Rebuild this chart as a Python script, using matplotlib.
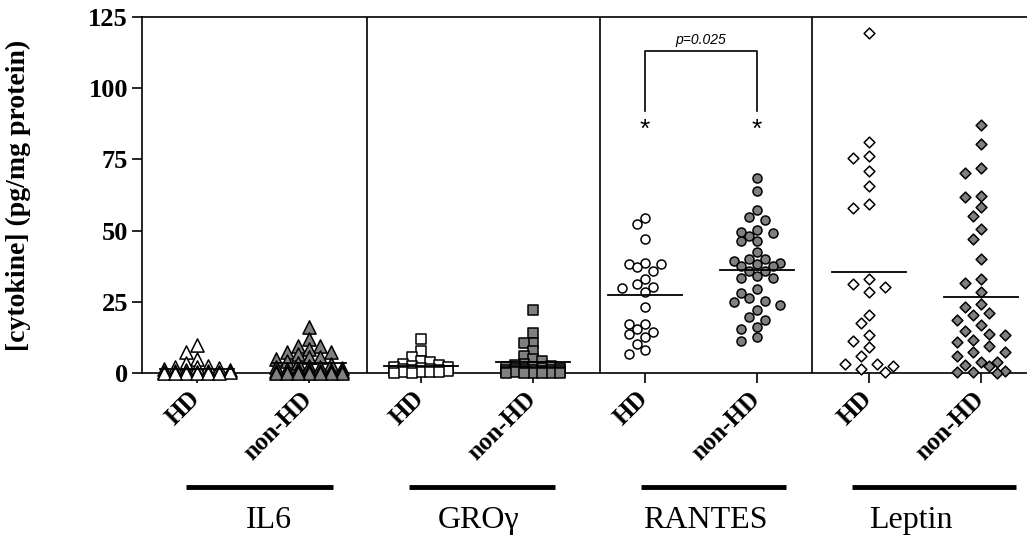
import numpy as np
import matplotlib.pyplot as plt

# values (pg/mg protein)
groups = ["IL6", "GRO\u03b3", "RANTES", "Leptin"]
tick_labels = ["HD", "non-HD"] * 4

il6_hd = [9.8, 7.5, 4.9, 3.5, 2.6, 2.2, 2.0, 1.8, 1.5, 1.2, 1.0, 0.8, 0.6,
          0.5, 0.4, 0.3, 0.2, 0.1, 0.0, 0.0, 0.0, 0.0, 0.0]
il6_non = [16.0, 11.9, 9.6, 9.6, 8.4, 7.5, 7.5, 6.7, 5.5, 5.5, 4.9, 4.2, 3.5,
           3.0, 2.6, 2.2, 2.0, 1.8, 1.5, 1.3, 1.1, 1.0, 0.8, 0.7, 0.6, 0.5,
           0.4, 0.3, 0.3, 0.2, 0.1, 0.1, 0.0, 0.0, 0.0, 0.0, 0.0]
gro_hd = [11.9, 7.8, 5.5, 4.3, 4.0, 3.2, 2.8, 2.5, 2.2, 2.0, 1.8, 1.5, 1.3,
          1.1, 0.9, 0.8, 0.6, 0.5, 0.4, 0.3, 0.2, 0.1, 0.0]
gro_non = [22.2, 13.9, 10.7, 10.4, 7.8, 6.1, 4.9, 4.3, 3.2, 2.8, 2.5, 2.2,
           2.0, 1.8, 1.6, 1.5, 1.3, 1.2, 1.1, 1.0, 0.9, 0.8, 0.7, 0.6, 0.5,
           0.5, 0.4, 0.3, 0.3, 0.2, 0.2, 0.1, 0.1, 0.0, 0.0, 0.0, 0.0]
rantes_hd = [54.5, 52.2, 46.9, 38.7, 38.2, 38.2, 37.3, 35.8, 33.1, 31.2,
             30.3, 30.0, 28.5, 23.3, 17.2, 17.2, 15.6, 14.5, 13.7, 12.5,
             10.2, 8.2, 6.7]
rantes_non = [68.5, 63.8, 57.4, 54.9, 53.7, 50.2, 49.5, 49.0, 48.1, 46.3,
              46.3, 42.5, 40.1, 40.1, 39.3, 38.7, 38.2, 37.6, 37.6, 35.8,
              35.8, 34.1, 33.5, 33.5, 29.6, 28.2, 26.5, 25.3, 25.0, 23.8,
              22.2, 19.5, 18.7, 16.0, 15.6, 12.5, 11.3]
leptin_hd = [119.5, 81.0, 76.3, 75.5, 70.8, 65.8, 59.4, 58.0, 32.9, 31.4,
             30.3, 28.5, 20.4, 17.4, 13.4, 11.3, 9.0, 5.8, 3.2, 3.2, 2.6,
             1.4, 0.2]
leptin_non = [87.1, 80.5, 72.0, 70.3, 62.3, 61.7, 58.2, 55.3, 50.4, 46.9,
              40.1, 33.1, 31.5, 28.5, 24.4, 23.3, 20.9, 20.3, 18.6, 16.8,
              14.8, 13.7, 13.3, 11.6, 11.0, 9.6, 7.5, 7.2, 5.8, 4.0, 3.7,
              2.8, 2.6, 0.8, 0.2, 0.2, 0.0]
# horizontal group lines (as drawn)
means = [1.4, 3.4, 2.6, 3.7, 27.4, 36.2, 35.5, 26.7]
p_text = "p=0.025"

series = [il6_hd, il6_non, gro_hd, gro_non,
          rantes_hd, rantes_non, leptin_hd, leptin_non]

W, H = 1027, 540
fig = plt.figure(figsize=(W / 100, H / 100), dpi=100)
ax = fig.add_axes([142 / W, (H - 373) / H, (1030 - 142) / W, (373 - 17) / H])
xmin, xmax = 1 - 55 / 112, 8 + 49 / 112
ax.set_xlim(xmin, xmax)
ax.set_ylim(0, 125)
px_x = (1030 - 142) / (xmax - xmin)
px_y = (373 - 17) / 125


def swarm(vals, d, step, kmax):
    # simple beeswarm in pixel space, returns x offsets in data units
    placed = []
    offs = np.zeros(len(vals))
    cands = [0]
    for k in range(1, kmax + 1):
        cands += [-k, k]
    for i in np.argsort(vals)[::-1]:
        y = vals[i] * px_y
        best, best_d = 0, -1
        for c in cands:
            x = c * step
            md = min([np.hypot(x - a, y - b) for a, b in placed] or [1e9])
            if md >= d:
                best = c
                break
            if md > best_d:
                best, best_d = c, md
        placed.append((best * step, y))
        offs[i] = best * step / px_x
    return offs


grey = "#808080"
styles = [
    dict(marker="^", s=90, fc="white", d=8, step=11),
    dict(marker="^", s=90, fc=grey, d=8, step=11),
    dict(marker="s", s=42, fc="white", d=8, step=9),
    dict(marker="s", s=42, fc=grey, d=8, step=9),
    dict(marker="o", s=42, fc="white", d=9, step=7.8),
    dict(marker="o", s=42, fc=grey, d=9, step=7.8),
    dict(marker="D", s=30, fc="white", d=11, step=8),
    dict(marker="D", s=30, fc=grey, d=11, step=8),
]

for i, (vals, st) in enumerate(zip(series, styles)):
    vals = np.array(vals)
    xpos = i + 1 + swarm(vals, st["d"], st["step"], 3)
    ax.scatter(xpos, vals, marker=st["marker"], s=st["s"], facecolor=st["fc"],
               edgecolor="black", linewidth=1.1, zorder=3, clip_on=False)
    ax.plot([i + 1 - 0.33, i + 1 + 0.33], [means[i], means[i]],
            color="black", lw=1.3, zorder=4)

for xs in [2.52, 4.6, 6.49]:
    ax.axvline(xs, color="black", lw=1.2)

# significance bracket
ax.plot([5, 5, 6, 6], [91.9, 113.2, 113.2, 91.9], color="black", lw=1.2)
ax.text(5.5, 114.5, p_text, ha="center", va="bottom", fontsize=10,
        style="italic", family="Liberation Sans")
for xs in [5, 6]:
    ax.text(xs, 85.5, "*", ha="center", va="center", fontsize=19,
            family="Liberation Sans")

ax.spines["right"].set_visible(False)
for sp in ["left", "bottom", "top"]:
    ax.spines[sp].set_linewidth(1.2)

ax.set_yticks([0, 25, 50, 75, 100, 125])
ax.set_xticks(range(1, 9))
ax.set_xticklabels(tick_labels, rotation=45, ha="right", va="center",
                   rotation_mode="anchor", fontsize=18, fontweight="bold",
                   family="Liberation Serif")
ax.tick_params(axis="x", direction="out", length=7, width=1.2, pad=9)
ax.tick_params(axis="y", direction="out", length=7, width=1.2, pad=3,
               labelsize=19)
for lab in ax.get_yticklabels():
    lab.set_fontweight("bold")
    lab.set_family("Liberation Serif")

ax.set_ylabel("[cytokine] (pg/mg protein)", fontsize=20, fontweight="bold",
              family="Liberation Serif")
ax.yaxis.set_label_coords(-0.125, 0.5)

# group labels with bars under the tick labels
spans = [(0.90, 2.21), (2.89, 4.20), (4.96, 6.26), (6.85, 8.31)]
centers = [1.64, 3.51, 5.54, 7.37]
trans = ax.get_xaxis_transform()
for g, (a, b), c in zip(groups, spans, centers):
    ax.plot([a, b], [-0.32, -0.32], color="black", lw=3.5, transform=trans,
            clip_on=False, solid_capstyle="butt")
    ax.text(c, -0.415, g, ha="center", va="center", fontsize=23,
            family="Liberation Serif", transform=trans)

fig.savefig("out.png", dpi=100)
